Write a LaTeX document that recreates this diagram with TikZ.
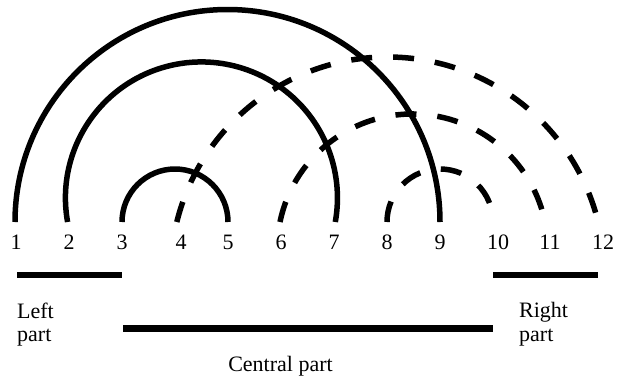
\documentclass[tikz,border=0pt]{standalone}
\usepackage{fontspec}
\setmainfont{Liberation Serif}
\begin{document}
\begin{tikzpicture}[x=1pt,y=-1pt,
  solidarc/.style={line width=5.5pt},
  dasharc/.style={line width=5.5pt, dash pattern=on 21pt off 21pt},
  partbar/.style={line width=6.5pt},
  lbl/.style={font=\fontsize{22}{23.5}\selectfont, anchor=base, inner sep=0pt},
  parttext/.style={font=\fontsize{22}{23.5}\selectfont, anchor=north west, inner sep=0pt, align=left}]
\useasboundingbox (0,0) rectangle (618,381);

% arc end points on the base line
\coordinate (p1) at (15,222);
\coordinate (p2) at (67.6,222);
\coordinate (p3) at (122,222);
\coordinate (p4) at (176.8,222);
\coordinate (p5) at (228,222);
\coordinate (p6) at (280,222);
\coordinate (p7) at (335.3,222);
\coordinate (p8) at (387,222);
\coordinate (p9) at (440,222);
\coordinate (p10) at (493,222);
\coordinate (p11) at (545,222);
\coordinate (p12) at (598,222);

% solid arcs
\draw[solidarc] (p1) arc[start angle=180, end angle=360, radius=212.5];
\draw[solidarc] (p2) arc[start angle=169.8, end angle=370.2, radius=136];
\draw[solidarc] (p3) arc[start angle=180, end angle=360, radius=53];

% dashed arcs
\draw[dasharc] (p4) arc[start angle=193.87, end angle=346.13, radius=217];
\draw[dasharc] (p6) arc[start angle=191.64, end angle=348.36, radius=135.3];
\draw[dasharc] (p8) arc[start angle=180, end angle=360, radius=53];

% labels
\node[lbl] (n1) at (16,249) {1};
\node[lbl] (n2) at (69,249) {2};
\node[lbl] (n3) at (122,249) {3};
\node[lbl] (n4) at (181,249) {4};
\node[lbl] (n5) at (228,249) {5};
\node[lbl] (n6) at (281,249) {6};
\node[lbl] (n7) at (334,249) {7};
\node[lbl] (n8) at (387,249) {8};
\node[lbl] (n9) at (440,249) {9};
\node[lbl] (n10) at (498,249) {10};
\node[lbl] (n11) at (550,249) {11};
\node[lbl] (n12) at (603,249) {12};

% part bars
\coordinate (la) at (17,275);
\coordinate (lb) at (122,275);
\coordinate (ca) at (123,328.5);
\coordinate (cb) at (493,328.5);
\coordinate (ra) at (493,275);
\coordinate (rb) at (598,275);
\draw[partbar] (la) -- (lb);
\draw[partbar] (ca) -- (cb);
\draw[partbar] (ra) -- (rb);

% part texts
\node[parttext] (leftpart) at (17,302.5) {Left\\part};
\node[parttext] (rightpart) at (519,302.5) {Right\\part};
\node[lbl] (centralpart) at (280.5,371) {Central part};
\end{tikzpicture}
\end{document}
